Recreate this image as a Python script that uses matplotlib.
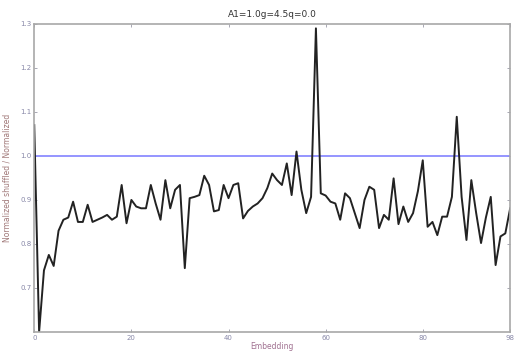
import matplotlib

matplotlib.use("Agg")
import matplotlib.pyplot as plt
import numpy as np

# Normalized shuffled / normalized ratio per embedding index
embedding = list(range(99))
ratio = [
    1.07, 0.60, 0.74, 0.775, 0.75, 0.83, 0.855, 0.86, 0.896, 0.85,
    0.85, 0.889, 0.85, 0.855, 0.86, 0.866, 0.855, 0.862, 0.934, 0.847,
    0.90, 0.885, 0.881, 0.881, 0.934, 0.892, 0.855, 0.945, 0.881, 0.923,
    0.934, 0.745, 0.904, 0.907, 0.911, 0.955, 0.934, 0.874, 0.877, 0.934,
    0.904, 0.934, 0.938, 0.858, 0.875, 0.885, 0.892, 0.904, 0.927, 0.96,
    0.945, 0.934, 0.983, 0.911, 1.01, 0.923, 0.87, 0.907, 1.29, 0.915,
    0.91, 0.896, 0.892, 0.855, 0.915, 0.904, 0.87, 0.836, 0.90, 0.93,
    0.923, 0.836, 0.866, 0.855, 0.949, 0.845, 0.885, 0.85, 0.87, 0.92,
    0.99, 0.839, 0.85, 0.82, 0.862, 0.862, 0.907, 1.089, 0.907, 0.809,
    0.945, 0.87, 0.802, 0.86, 0.907, 0.752, 0.817, 0.824, 0.881,
]
baseline = 1.0

x_ticks = [0, 20, 40, 60, 80, 98]
y_ticks = [0.7, 0.8, 0.9, 1.0, 1.1, 1.2, 1.3]

fig = plt.figure(figsize=(5.19, 3.52), dpi=100)
ax = fig.add_axes([0.066, 0.057, 0.917, 0.875])

ax.axhline(baseline, color="#8c8cff", linewidth=1.3)
ax.plot(embedding, ratio, color="#222222", linewidth=1.4)

ax.set_xlim(0, embedding[-1])
ax.set_ylim(0.6, 1.3)
ax.set_xticks(x_ticks)
ax.set_yticks(y_ticks)
ax.set_xticklabels([str(t) for t in x_ticks])
ax.set_yticklabels(["%.1f" % t for t in y_ticks])

ax.tick_params(direction="in", length=2, width=0.6, colors="#9a9aa8",
               labelsize=5, top=True, right=True, pad=2, labelcolor="#8888a8")
for side in ax.spines.values():
    side.set_color("#a8a8a8")
    side.set_linewidth(1.2)

ax.set_title("A1=1.0g=4.5q=0.0", fontsize=6.5, color="#333333", pad=5)
ax.set_xlabel("Embedding", fontsize=5.5, color="#a07090", labelpad=1)
ax.set_ylabel("Normalized shuffled / Normalized", fontsize=5.5, color="#a07878", labelpad=6)

fig.savefig("out.png", dpi=100)
